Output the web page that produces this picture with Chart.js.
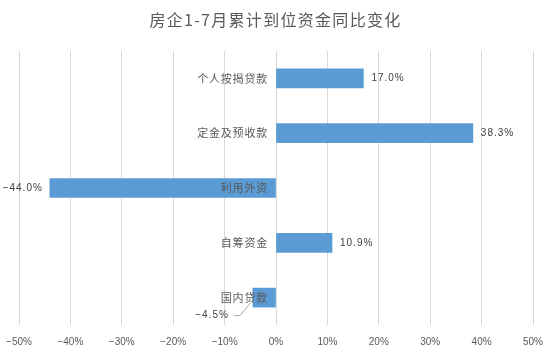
<!DOCTYPE html>
<html><head><meta charset="utf-8">
<script src="https://cdn.jsdelivr.net/npm/chart.js@4.4.1/dist/chart.umd.min.js"></script>
<style>html,body{margin:0;padding:0;background:#fff}</style>
</head><body>
<canvas id="c" width="549" height="357"></canvas>
<script>
const chartTitle = '房企1-7月累计到位资金同比变化';
const categories = ['个人按揭贷款', '定金及预收款', '利用外资', '自筹资金', '国内贷款'];
const values = [17.0, 38.3, -44.0, 10.9, -4.5];
const xTickLabels = ['−50%', '−40%', '−30%', '−20%', '−10%', '0%', '10%', '20%', '30%', '40%', '50%'];

function fmt(v) {
  return (v < 0 ? '−' : '') + Math.abs(v).toFixed(1) + '%';
}

const labelPlugin = {
  id: 'customLabels',
  afterDraw(chart) {
    const ctx = chart.ctx;
    const xs = chart.scales.x;
    const meta = chart.getDatasetMeta(0);
    const zero = xs.getPixelForValue(0);
    ctx.save();
    ctx.font = '16px "Noto Sans CJK SC"';
    ctx.fillStyle = '#595959';
    ctx.textAlign = 'center';
    ctx.textBaseline = 'middle';
    ctx.letterSpacing = '1.3px';
    ctx.fillText(chartTitle, chart.width / 2 + 1, 20);

    ctx.font = '11px "Noto Sans CJK SC"';
    ctx.letterSpacing = '0.8px';
    ctx.textAlign = 'right';
    ctx.fillStyle = '#595959';
    const catWidths = [];
    meta.data.forEach((bar, i) => {
      ctx.fillText(categories[i], zero - 8, bar.y);
      catWidths.push(ctx.measureText(categories[i]).width);
    });

    ctx.font = '10px "Liberation Sans"';
    ctx.letterSpacing = '1px';
    ctx.fillStyle = '#404040';
    meta.data.forEach((bar, i) => {
      const v = values[i];
      const txt = fmt(v);
      if (v >= 0) {
        ctx.textAlign = 'left';
        ctx.fillText(txt, bar.x + 8, bar.y);
      } else if (zero - bar.x > catWidths[i] + 10) {
        ctx.textAlign = 'right';
        ctx.fillText(txt, bar.x - 7, bar.y);
      } else {
        const ty = bar.y + 17.5;
        const tr = bar.x - 24;
        ctx.textAlign = 'right';
        ctx.fillText(txt, tr, ty);
        ctx.strokeStyle = '#A6A6A6';
        ctx.lineWidth = 1;
        ctx.beginPath();
        ctx.moveTo(tr + 5, ty + 0.5);
        ctx.lineTo(tr + 11, ty + 0.5);
        ctx.lineTo(bar.x - 2, bar.y + 5);
        ctx.stroke();
      }
    });
    ctx.restore();
  }
};

new Chart(document.getElementById('c').getContext('2d'), {
  type: 'bar',
  data: {
    labels: categories,
    datasets: [{
      data: values,
      backgroundColor: '#5B9BD5',
      borderWidth: 0,
      barThickness: 19
    }]
  },
  options: {
    indexAxis: 'y',
    responsive: false,
    animation: false,
    devicePixelRatio: 1,
    layout: { padding: { top: 51, left: 19, right: 16, bottom: 6 } },
    plugins: {
      legend: { display: false },
      title: { display: false },
      tooltip: { enabled: false }
    },
    scales: {
      x: {
        min: -50, max: 50,
        ticks: {
          stepSize: 10,
          callback: (v, i) => xTickLabels[i],
          color: '#595959',
          font: { family: 'Liberation Sans', size: 10 },
          padding: 3,
          maxRotation: 0
        },
        grid: { color: '#D9D9D9', lineWidth: 1, drawTicks: true, tickLength: 8, tickColor: 'rgba(0,0,0,0)' },
        border: { display: false }
      },
      y: { display: false, grid: { display: false } }
    }
  },
  plugins: [labelPlugin]
});
</script>
</body></html>
